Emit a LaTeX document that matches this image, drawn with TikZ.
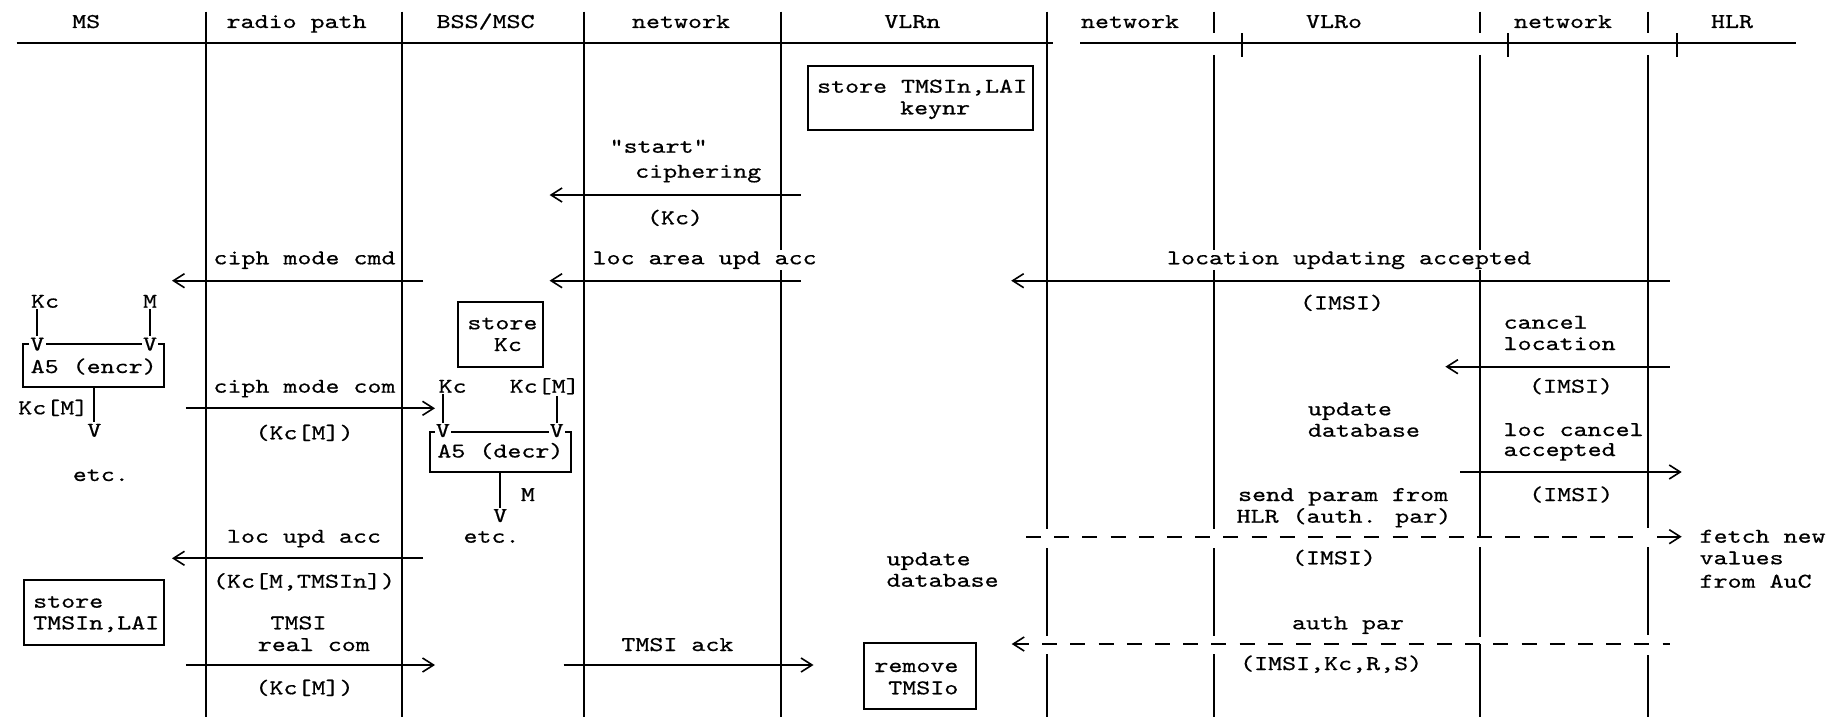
\documentclass[tikz,border=0pt]{standalone}
\usepackage{fontspec}
\newfontfamily\asc{lmmono10-regular.otf}[FakeStretch=1.27,FakeBold=0.6]
\usetikzlibrary{arrows.meta,fit}
\begin{document}
\begin{tikzpicture}[x=0.5pt,y=-0.5pt,
  life/.style={line width=1pt},
  msg/.style={line width=1pt},
  ah/.style={-{Straight Barb[length=5.5pt,width=7pt,line width=0.8pt]}},
  ha/.style={{Straight Barb[length=5.5pt,width=7pt,line width=0.8pt]}-},
  dsh/.style={line width=1pt,dash pattern=on 7.5pt off 6.6pt},
  t/.style={font=\fontsize{10.5}{12}\asc,inner sep=0.6pt,fill=white,anchor=base},
  tl/.style={t,anchor=base west},
  bx/.style={draw,line width=1pt,inner sep=0pt},
]
\useasboundingbox (0,0) rectangle (1836,717);
\fill[white] (0,0) rectangle (1836,717);

% ---- lifelines ----
\coordinate (l1t) at (205.6,11.7); \coordinate (l1b) at (205.6,717);
\coordinate (l2t) at (402,11.7);   \coordinate (l2b) at (402,717);
\coordinate (l3t) at (584,11.7);   \coordinate (l3b) at (584,717);
\coordinate (l4t) at (780.7,11.7); \coordinate (l4b) at (780.7,717);
\draw[life] (l1t) -- (l1b) (l2t) -- (l2b) (l3t) -- (l3b) (l4t) -- (l4b);
\coordinate (l5a) at (1047,11.7); \coordinate (l5b) at (1047,529);
\coordinate (l5c) at (1047,548);  \coordinate (l5d) at (1047,636);
\coordinate (l5e) at (1047,654);  \coordinate (l5f) at (1047,717);
\draw[life] (l5a) -- (l5b) (l5c) -- (l5d) (l5e) -- (l5f);
\coordinate (l6a) at (1214,55);  \coordinate (l6b) at (1214,529);
\coordinate (l6c) at (1214,548); \coordinate (l6d) at (1214,636);
\coordinate (l6e) at (1214,654); \coordinate (l6f) at (1214,717);
\draw[life] (l6a) -- (l6b) (l6c) -- (l6d) (l6e) -- (l6f);
\coordinate (l7a) at (1480,55);  \coordinate (l7b) at (1480,536.7);
\coordinate (l7c) at (1480,547); \coordinate (l7d) at (1480,637);
\coordinate (l7e) at (1480,644); \coordinate (l7f) at (1480,717);
\draw[life] (l7a) -- (l7b) (l7c) -- (l7d) (l7e) -- (l7f);
\coordinate (l8a) at (1648,55);  \coordinate (l8b) at (1648,528);
\coordinate (l8c) at (1648,547); \coordinate (l8d) at (1648,635);
\coordinate (l8e) at (1648,655); \coordinate (l8f) at (1648,717);
\draw[life] (l8a) -- (l8b) (l8c) -- (l8d) (l8e) -- (l8f);

% ---- header lines and ticks ----
\coordinate (hl1) at (16.6,43.3);   \coordinate (hl2) at (1052.7,43.3);
\coordinate (hr1) at (1080.4,43.3); \coordinate (hr2) at (1795.5,43.3);
\draw[line width=1.2pt] (hl1) -- (hl2) (hr1) -- (hr2);
\draw[life] (1214,11.7) -- (1214,33.3) (1480,11.7) -- (1480,33.3) (1648,11.7) -- (1648,33.3);
\draw[life] (1242,33.3) -- (1242,56.7) (1508,33.3) -- (1508,56.7) (1677,33.3) -- (1677,56.7);

% ---- headers ----
\node[t] (hMS) at (86.2,28) {MS};
\node[t] (hRP) at (296.6,28) {radio path};
\node[t] (hBSS) at (485.6,28) {BSS/MSC};
\node[t] (hN1) at (681,28) {network};
\node[t] (hVLRn) at (912.4,28) {VLRn};
\node[t] (hN2) at (1130,28) {network};
\node[t] (hVLRo) at (1334,28) {VLRo};
\node[t] (hN3) at (1563,28) {network};
\node[t] (hHLR) at (1732,28) {HLR};

% ---- boxes ----
\coordinate (vb1) at (808,65.7);    \coordinate (vb2) at (1033,130);
\node[bx,fit=(vb1)(vb2)] (vlrnbox) {};
\coordinate (eb1) at (23.3,344);    \coordinate (eb2) at (164,386.7);
\node[bx,fit=(eb1)(eb2)] (encbox) {};
\coordinate (sk1) at (457.9,301.7); \coordinate (sk2) at (542.5,366.7);
\node[bx,fit=(sk1)(sk2)] (skbox) {};
\coordinate (db1) at (430.2,431.7); \coordinate (db2) at (570.6,471.7);
\node[bx,fit=(db1)(db2)] (decbox) {};
\coordinate (st1) at (23.7,580);    \coordinate (st2) at (164.1,645);
\node[bx,fit=(st1)(st2)] (stbox) {};
\coordinate (rb1) at (864,643.3);   \coordinate (rb2) at (976.4,709.3);
\node[bx,fit=(rb1)(rb2)] (rmbox) {};

% ---- VLRn store ----
\node[tl] (vlrn1) at (815.5,92.7) {store TMSIn,LAI};
\node[tl] (vlrn2) at (898.5,114.3) {keynr};

% ---- start ciphering ----
\node[tl] (sc1) at (608,152.7) {"start"};
\node[tl] (sc2) at (633.6,177.7) {ciphering};
\coordinate (sca) at (800.9,195); \coordinate (scb) at (549.6,195);
\draw[msg,ah] (sca) -- (scb);
\node[t] (sc3) at (675,224.3) {(Kc)};

% ---- row: location updating accepted ----
\node[t] (cmc) at (304.5,264.3) {ciph mode cmd};
\coordinate (cmca) at (423,280.7); \coordinate (cmcb) at (172,280.7);
\draw[msg,ah] (cmca) -- (cmcb);
\node[tl] (laua) at (591,264.3) {loc area upd acc};
\coordinate (laa) at (800.9,280.7); \coordinate (lab) at (549.6,280.7);
\draw[msg,ah] (laa) -- (lab);
\node[tl] (lua) at (1165.4,264.3) {location updating accepted};
\coordinate (luaa) at (1669.8,280.7); \coordinate (luab) at (1011.2,280.7);
\draw[msg,ah] (luaa) -- (luab);
\node[t] (imsi1) at (1342,309.3) {(IMSI)};

% ---- MS encryption ----
\node[t] (msKc) at (45,307.7) {Kc};
\node[t] (msM) at (150,307.7) {M};
\node[t] (encT) at (93.7,373) {A5 (encr)};
\node[t] (v1) at (37.3,350.5) {V};
\node[t] (v2) at (150,350.5) {V};
\draw[msg] (msKc.south -| v1) -- (v1.north);
\draw[msg] (msM.south -| v2) -- (v2.north);
\node[t] (v3) at (94.3,436.7) {V};
\draw[msg] (encbox.south -| v3) -- (v3.north);
\node[tl] (kcm1) at (16.7,414.3) {Kc[M]};
\node[t] (etc1) at (100.8,481) {etc.};

% ---- store Kc ----
\node[tl] (sk1t) at (465.8,329.3) {store};
\node[tl] (sk2t) at (492.3,351) {Kc};

% ---- ciph mode com ----
\node[t] (cmcom) at (304.5,392.7) {ciph mode com};
\coordinate (cca) at (185.8,408.3); \coordinate (ccb) at (435,408.3);
\draw[msg,ah] (cca) -- (ccb);
\node[t] (kcm2) at (304.5,439.3) {(Kc[M])};

% ---- BSS decryption ----
\node[tl] (bKc) at (437,392.7) {Kc};
\node[tl] (bKcM) at (508.1,392.7) {Kc[M]};
\node[t] (decT) at (500.4,457.5) {A5 (decr)};
\node[t] (v4) at (442.9,437) {V};
\node[t] (v5) at (556.7,437) {V};
\draw[msg] (bKc.south -| v4) -- (v4.north);
\draw[msg] (bKcM.south -| v5) -- (v5.north);
\node[t] (v6) at (500.2,522) {V};
\draw[msg] (decbox.south -| v6) -- (v6.north);
\node[t] (bM) at (527.9,501) {M};
\node[t] (etc2) at (491.5,542.7) {etc.};

% ---- loc upd acc ----
\node[t] (lua2) at (304,542.7) {loc upd acc};
\coordinate (lu2a) at (423,558.3); \coordinate (lu2b) at (172,558.3);
\draw[msg,ah] (lu2a) -- (lu2b);
\node[t] (kcmt) at (304,587.7) {(Kc[M,TMSIn])};

% ---- MS store ----
\node[tl] (st1t) at (31.6,607.7) {store};
\node[tl] (st2t) at (31.6,629.3) {TMSIn,LAI};

% ---- TMSI real com ----
\node[tl] (trc1) at (268.9,629.3) {TMSI};
\node[tl] (trc2) at (256.2,651) {real com};
\coordinate (trca) at (185.8,665); \coordinate (trcb) at (435,665);
\draw[msg,ah] (trca) -- (trcb);
\node[t] (kcm3) at (304.5,694.3) {(Kc[M])};

% ---- TMSI ack ----
\node[tl] (tack) at (619.8,651) {TMSI ack};
\coordinate (taa) at (563.5,665); \coordinate (tab) at (813.5,665);
\draw[msg,ah] (taa) -- (tab);

% ---- VLRn update / remove ----
\node[tl] (ud1) at (885,565.3) {update};
\node[tl] (ud2) at (885,586.7) {database};
\node[tl] (rm1) at (872.8,672) {remove};
\node[tl] (rm2) at (886.7,694.3) {TMSIo};

% ---- cancel location ----
\node[tl] (cl1) at (1502,328.7) {cancel};
\node[tl] (cl2) at (1502,350) {location};
\coordinate (cla) at (1669.8,366.7); \coordinate (clb) at (1445.4,366.7);
\draw[msg,ah] (cla) -- (clb);
\node[t] (imsi2) at (1571,392.7) {(IMSI)};
\node[tl] (ud3) at (1306.3,415.3) {update};
\node[tl] (ud4) at (1306.3,436.7) {database};
\node[tl] (lca1) at (1502,436) {loc cancel};
\node[tl] (lca2) at (1502,456) {accepted};
\coordinate (lcaa) at (1460,472); \coordinate (lcab) at (1681.7,472);
\draw[msg,ah] (lcaa) -- (lcab);

% ---- send param ----
\node[tl] (sp1) at (1236.5,501) {send param from};
\node[tl] (sp2) at (1235,522.7) {HLR (auth. par)};
\node[t] (imsi3) at (1571.2,501) {(IMSI)};
\coordinate (d1a) at (1026,536.7); \coordinate (d1b) at (1644,536.7);
\draw[dsh] (d1a) -- (d1b);
\coordinate (d1c) at (1657,536.7); \coordinate (d1d) at (1681.7,536.7);
\draw[msg,ah] (d1c) -- (d1d);
\node[tl] (fn1) at (1698,542.7) {fetch new};
\node[tl] (fn2) at (1698,564.3) {values};
\node[tl] (fn3) at (1698,587.7) {from AuC};
\node[t] (imsi4) at (1333.9,564.3) {(IMSI)};

% ---- auth par ----
\node[t] (ap) at (1348,629.3) {auth par};
\coordinate (d2a) at (1011.7,644); \coordinate (d2b) at (1670,644);
\draw[dsh,ha] (d2a) -- (d2b);
\node[tl] (ikrs) at (1238.5,670) {(IMSI,Kc,R,S)};
\end{tikzpicture}
\end{document}
